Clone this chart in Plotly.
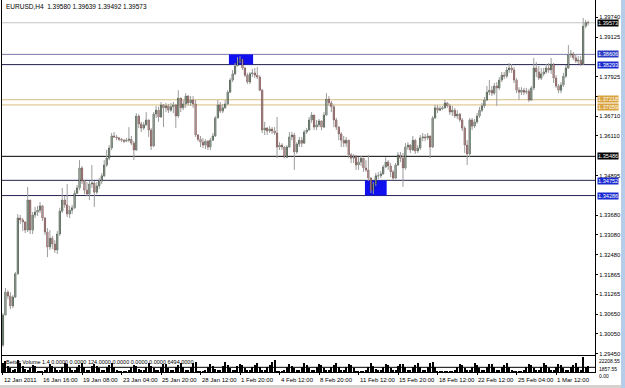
import plotly.graph_objects as go

# ---------------- data (EURUSD, H4) ----------------
first_open = 1.2971
close = [
1.3063, 1.3133, 1.3121, 1.3091, 1.3118, 1.3189, 1.3360, 1.3354, 1.3348, 1.3323,
1.3415, 1.3323, 1.3369, 1.3378, 1.3384, 1.3397, 1.3360, 1.3317, 1.3271, 1.3298,
1.3280, 1.3262, 1.3311, 1.3381, 1.3415, 1.3400, 1.3372, 1.3384, 1.3391, 1.3436,
1.3452, 1.3513, 1.3473, 1.3445, 1.3433, 1.3464, 1.3467, 1.3439, 1.3458, 1.3473,
1.3489, 1.3522, 1.3543, 1.3574, 1.3611, 1.3608, 1.3605, 1.3601, 1.3598, 1.3595,
1.3598, 1.3601, 1.3589, 1.3568, 1.3672, 1.3648, 1.3635, 1.3645, 1.3660, 1.3629,
1.3580, 1.3678, 1.3690, 1.3669, 1.3706, 1.3697, 1.3703, 1.3690, 1.3700, 1.3706,
1.3672, 1.3727, 1.3697, 1.3709, 1.3733, 1.3712, 1.3721, 1.3709, 1.3614, 1.3601,
1.3592, 1.3583, 1.3595, 1.3577, 1.3598, 1.3611, 1.3666, 1.3706, 1.3687, 1.3697,
1.3709, 1.3745, 1.3782, 1.3801, 1.3825, 1.3840, 1.3846, 1.3819, 1.3797, 1.3776,
1.3801, 1.3804, 1.3797, 1.3791, 1.3751, 1.3629, 1.3635, 1.3626, 1.3632, 1.3626,
1.3620, 1.3577, 1.3583, 1.3577, 1.3546, 1.3577, 1.3608, 1.3614, 1.3562, 1.3586,
1.3598, 1.3589, 1.3623, 1.3629, 1.3660, 1.3675, 1.3638, 1.3645, 1.3657, 1.3638,
1.3675, 1.3724, 1.3712, 1.3700, 1.3660, 1.3638, 1.3617, 1.3598, 1.3589, 1.3598,
1.3553, 1.3543, 1.3550, 1.3522, 1.3531, 1.3543, 1.3513, 1.3507, 1.3482, 1.3445,
1.3464, 1.3489, 1.3489, 1.3495, 1.3516, 1.3531, 1.3519, 1.3501, 1.3482, 1.3522,
1.3553, 1.3543, 1.3513, 1.3577, 1.3583, 1.3568, 1.3598, 1.3565, 1.3574, 1.3605,
1.3608, 1.3605, 1.3611, 1.3577, 1.3666, 1.3697, 1.3690, 1.3694, 1.3697, 1.3712,
1.3703, 1.3684, 1.3690, 1.3672, 1.3678, 1.3660, 1.3635, 1.3583, 1.3556, 1.3660,
1.3641, 1.3654, 1.3672, 1.3690, 1.3703, 1.3721, 1.3745, 1.3751, 1.3742, 1.3764,
1.3758, 1.3782, 1.3797, 1.3794, 1.3813, 1.3819, 1.3813, 1.3782, 1.3751, 1.3745,
1.3751, 1.3745, 1.3748, 1.3721, 1.3758, 1.3819, 1.3807, 1.3788, 1.3801, 1.3807,
1.3819, 1.3813, 1.3831, 1.3788, 1.3764, 1.3751, 1.3767, 1.3794, 1.3819, 1.3859,
1.3862, 1.3850, 1.3840, 1.3843, 1.3831, 1.3947, 1.3958, 1.39573]

high = [
1.3069, 1.3146, 1.3139, 1.3133, 1.3124, 1.3195, 1.3372, 1.3369, 1.3360, 1.3348,
1.3455, 1.3415, 1.3378, 1.3394, 1.3397, 1.3409, 1.3400, 1.3363, 1.3329, 1.3323,
1.3305, 1.3292, 1.3320, 1.3391, 1.3452, 1.3427, 1.3464, 1.3397, 1.3400, 1.3445,
1.3461, 1.3537, 1.3519, 1.3476, 1.3470, 1.3473, 1.3522, 1.3473, 1.3470, 1.3482,
1.3498, 1.3537, 1.3568, 1.3583, 1.3620, 1.3623, 1.3614, 1.3608, 1.3605, 1.3601,
1.3605, 1.3638, 1.3611, 1.3595, 1.3681, 1.3678, 1.3654, 1.3654, 1.3684, 1.3660,
1.3635, 1.3684, 1.3703, 1.3700, 1.3715, 1.3709, 1.3712, 1.3709, 1.3712, 1.3715,
1.3709, 1.3751, 1.3727, 1.3721, 1.3742, 1.3736, 1.3733, 1.3733, 1.3721, 1.3617,
1.3611, 1.3605, 1.3601, 1.3598, 1.3605, 1.3620, 1.3672, 1.3721, 1.3715, 1.3709,
1.3721, 1.3751, 1.3788, 1.3813, 1.3834, 1.3852, 1.3855, 1.3843, 1.3822, 1.3804,
1.3807, 1.3816, 1.3819, 1.3822, 1.3797, 1.3755, 1.3654, 1.3638, 1.3641, 1.3638,
1.3638, 1.3669, 1.3592, 1.3589, 1.3580, 1.3583, 1.3623, 1.3623, 1.3620, 1.3592,
1.3608, 1.3608, 1.3629, 1.3635, 1.3669, 1.3684, 1.3675, 1.3660, 1.3663, 1.3657,
1.3684, 1.3742, 1.3733, 1.3718, 1.3706, 1.3666, 1.3641, 1.3623, 1.3611, 1.3608,
1.3595, 1.3559, 1.3556, 1.3553, 1.3546, 1.3550, 1.3543, 1.3537, 1.3553, 1.3485,
1.3470, 1.3498, 1.3501, 1.3504, 1.3522, 1.3546, 1.3537, 1.3528, 1.3507, 1.3528,
1.3562, 1.3562, 1.3559, 1.3589, 1.3592, 1.3586, 1.3611, 1.3601, 1.3583, 1.3614,
1.3620, 1.3617, 1.3620, 1.3611, 1.3672, 1.3706, 1.3706, 1.3703, 1.3703, 1.3721,
1.3715, 1.3709, 1.3703, 1.3697, 1.3690, 1.3681, 1.3666, 1.3641, 1.3598, 1.3666,
1.3666, 1.3663, 1.3681, 1.3700, 1.3712, 1.3730, 1.3764, 1.3782, 1.3764, 1.3773,
1.3776, 1.3791, 1.3807, 1.3807, 1.3822, 1.3834, 1.3831, 1.3822, 1.3788, 1.3760,
1.3760, 1.3758, 1.3758, 1.3755, 1.3764, 1.3850, 1.3837, 1.3825, 1.3819, 1.3819,
1.3831, 1.3834, 1.3850, 1.3834, 1.3797, 1.3770, 1.3776, 1.3804, 1.3828, 1.3889,
1.3874, 1.3868, 1.3859, 1.3855, 1.3855, 1.3972, 1.3966, 1.39639]

low = [
1.2965, 1.3063, 1.3111, 1.3081, 1.3084, 1.3115, 1.3186, 1.3342, 1.3320, 1.3314,
1.3317, 1.3311, 1.3311, 1.3360, 1.3366, 1.3375, 1.3351, 1.3308, 1.3240, 1.3262,
1.3265, 1.3253, 1.3250, 1.3305, 1.3375, 1.3391, 1.3363, 1.3360, 1.3372, 1.3388,
1.3433, 1.3445, 1.3464, 1.3433, 1.3427, 1.3415, 1.3452, 1.3394, 1.3433, 1.3449,
1.3464, 1.3485, 1.3516, 1.3537, 1.3568, 1.3605, 1.3598, 1.3595, 1.3592, 1.3589,
1.3592, 1.3592, 1.3583, 1.3537, 1.3565, 1.3635, 1.3623, 1.3629, 1.3641, 1.3608,
1.3568, 1.3577, 1.3666, 1.3654, 1.3666, 1.3638, 1.3684, 1.3681, 1.3684, 1.3681,
1.3635, 1.3666, 1.3684, 1.3690, 1.3697, 1.3703, 1.3703, 1.3697, 1.3608, 1.3595,
1.3577, 1.3574, 1.3571, 1.3568, 1.3568, 1.3595, 1.3608, 1.3666, 1.3681, 1.3681,
1.3694, 1.3706, 1.3742, 1.3776, 1.3797, 1.3825, 1.3834, 1.3813, 1.3791, 1.3770,
1.3770, 1.3791, 1.3788, 1.3785, 1.3748, 1.3620, 1.3614, 1.3614, 1.3620, 1.3617,
1.3614, 1.3543, 1.3568, 1.3568, 1.3543, 1.3543, 1.3574, 1.3598, 1.3507, 1.3556,
1.3577, 1.3577, 1.3586, 1.3617, 1.3629, 1.3651, 1.3629, 1.3629, 1.3638, 1.3629,
1.3635, 1.3672, 1.3703, 1.3684, 1.3638, 1.3629, 1.3598, 1.3577, 1.3577, 1.3577,
1.3543, 1.3528, 1.3528, 1.3507, 1.3507, 1.3519, 1.3501, 1.3501, 1.3473, 1.3436,
1.3433, 1.3458, 1.3479, 1.3482, 1.3492, 1.3513, 1.3507, 1.3485, 1.3476, 1.3479,
1.3519, 1.3531, 1.3455, 1.3507, 1.3568, 1.3559, 1.3565, 1.3556, 1.3559, 1.3568,
1.3595, 1.3595, 1.3598, 1.3543, 1.3574, 1.3663, 1.3681, 1.3687, 1.3690, 1.3694,
1.3697, 1.3675, 1.3672, 1.3666, 1.3663, 1.3654, 1.3626, 1.3559, 1.3522, 1.3546,
1.3629, 1.3635, 1.3648, 1.3666, 1.3684, 1.3697, 1.3718, 1.3736, 1.3733, 1.3736,
1.3703, 1.3751, 1.3776, 1.3785, 1.3788, 1.3804, 1.3804, 1.3773, 1.3742, 1.3721,
1.3736, 1.3736, 1.3739, 1.3715, 1.3718, 1.3751, 1.3791, 1.3782, 1.3782, 1.3794,
1.3801, 1.3804, 1.3801, 1.3773, 1.3758, 1.3742, 1.3742, 1.3761, 1.3788, 1.3816,
1.3850, 1.3843, 1.3834, 1.3831, 1.3825, 1.3828, 1.3941, 1.39492]

volume = [
12000, 15000, 9000, 5000, 3000, 4000, 16000, 12000, 8000, 4000, 2500, 6000, 10000, 8000,
600, 300, 900,
2000, 6000, 11000, 9000, 5000, 2500, 2200, 7000, 12000, 10500, 6000, 3000,
1800, 6500, 10000, 13000, 7000, 2600, 2400, 8000, 11500, 9000, 5500, 3200,
2000, 7500, 9500, 12000, 6500, 1500,
300, 200, 250, 400,
2500, 7000, 10000, 8500, 4000, 2000, 2800, 6500, 12500, 9000, 5000, 2300,
2100, 7200, 10500, 11000, 6000, 2700, 2400, 6800, 9800, 13000, 7200, 3000,
1900, 7400, 12000, 14500,
500, 300, 700,
2600, 6800, 11000, 9000, 4800, 2200, 2500, 7800, 13500, 10000, 5200, 2600,
2000, 8200, 11800, 9600, 6200, 2400, 2700, 7000, 10400, 12800, 6600, 2900,
2100, 6600, 9400, 13800, 17000,
900, 400, 600,
2400, 7200, 10800, 8800, 5000, 2300, 2600, 6900, 12200, 9300, 5600, 2500,
2200, 7600, 11200, 10200, 6100, 2800, 2300, 7100, 9900, 12400, 6900, 3100,
2000, 7000, 11600, 9800, 5400,
600, 300, 200, 500,
2600, 7400, 12600, 9000, 4600, 2100, 2400, 6600, 11400, 9900, 5400, 2600,
2100, 7700, 10600, 10800, 6300, 2700, 2500, 6900, 10200, 12900, 7100, 3000,
2200, 7300, 11900, 13200, 6800,
900, 500, 400, 300, 350, 600, 800,
2300, 7000, 11000, 9400, 5200, 2400, 2500, 6700, 12800, 9700, 5300, 2600,
2200, 7500, 10900, 11300, 6400, 2800, 2400, 7200, 10100, 12700, 7000, 3100,
700, 300, 400, 600,
2100, 7300, 11700, 9500, 5600, 2300, 2600, 6800, 12300, 9200, 5100, 2500,
2300, 7400, 10700, 10400, 6000, 2600, 2500, 7100, 10100, 12600, 6700, 3000,
21500, 6400, 8200]
vol_max = 22208.55
vol_low_label = 1857.55
vol_avg = 6494.0

date_ticks = [0, 16, 32, 48, 64, 80, 96, 112, 128, 144, 160, 176, 192, 208, 224]
date_labels = ["12 Jan 2011", "16 Jan 16:00", "19 Jan 08:00", "23 Jan 04:00", "25 Jan 20:00",
               "28 Jan 12:00", "1 Feb 20:00", "4 Feb 12:00", "8 Feb 20:00", "11 Feb 12:00",
               "15 Feb 20:00", "18 Feb 12:00", "22 Feb 12:00", "25 Feb 04:00", "1 Mar 12:00"]

price_ticks = [1.39740, 1.39125, 1.37925, 1.37310, 1.36710, 1.36110, 1.34895,
               1.33680, 1.33080, 1.32480, 1.31865, 1.31265, 1.30650, 1.30050, 1.29450]
hidden_ticks = [1.37310]   # tick mark only; its label sits behind the orange level labels

# horizontal levels: (price, line colour, label background, label nudge in px)
levels = [
    (1.38606, "#7a7aa8", "#2b3bc4", 0),
    (1.38293, "#1e1e4a", "#1a2bd0", 0),
    (1.37218, "#d8bc80", "#d9a23c", 1),
    (1.37059, "#d8bc80", "#d9a23c", -2),
    (1.35486, "#000000", "#000000", 0),
    (1.34752, "#242450", "#1a2bd0", -1),
    (1.34286, "#242450", "#1a2bd0", 0),
]
bid_price = 1.39573
header = "EURUSD,H4  1.39580 1.39639 1.39492 1.39573"
vol_header = "Better Volume 1.4 0.0000 0.0000 124.0000 0.0000 0.0000 0.0000 6494.0000"

# zones: (first bar, last bar, lower price, upper price)
zones = [(91.5, 101.3, 1.38293, 1.38606), (146.6, 155.4, 1.34286, 1.34752)]

# ---------------- figure ----------------
W, H = 625, 388
ML, MR, MT, MB = 2, 30, 0, 16
PW, PH = W - ML - MR, H - MT - MB
px_per_bar = 2.469
x0 = -0.4
x1 = x0 + PW / px_per_bar
y_top, y_bot = 1.4027, 1.29407
main_bottom_px = 355
main_dom = [(PH - main_bottom_px) / PH, 1]
vol_dom = [0, 16 / PH]

n = len(close)
xs = list(range(n))
opens = [first_open] + close[:-1]

wx, wy = [], []
for i in xs:
    lo = min(low[i], opens[i], close[i])
    hi = max(high[i], opens[i], close[i])
    wx += [i, i, None]
    wy += [lo, hi, None]

fig = go.Figure()
fig.add_trace(go.Scatter(x=wx, y=wy, mode="lines", line=dict(color="#9c9c9c", width=1),
                         hoverinfo="skip", showlegend=False))
fig.add_trace(go.Candlestick(
    x=xs, open=opens, close=close,
    high=[max(o, c) for o, c in zip(opens, close)],
    low=[min(o, c) for o, c in zip(opens, close)],
    increasing=dict(fillcolor="#0f2f10", line=dict(color="#0f2f10", width=0.6)),
    decreasing=dict(fillcolor="#6e1d1d", line=dict(color="#6e1d1d", width=0.6)),
    whiskerwidth=0, showlegend=False, hoverinfo="skip"))

fig.add_trace(go.Bar(x=list(range(len(volume))), y=volume, xaxis="x2", yaxis="y2",
                     marker=dict(color="#000000", line=dict(width=0)), width=0.45,
                     showlegend=False, hoverinfo="skip"))

shapes = []
for p, lc, _, _ in levels:
    shapes.append(dict(type="line", xref="x domain", x0=0, x1=1, yref="y", y0=p, y1=p,
                       line=dict(color=lc, width=1), layer="below"))
shapes.append(dict(type="line", xref="x domain", x0=0, x1=1, yref="y", y0=bid_price, y1=bid_price,
                   line=dict(color="#c4c4c4", width=1), layer="below"))
for a, b, lo, hi in zones:
    shapes.append(dict(type="rect", xref="x", x0=a, x1=b, yref="y", y0=lo, y1=hi,
                       fillcolor="#1010ee", line=dict(width=0), layer="below"))
shapes.append(dict(type="line", xref="x2 domain", x0=0, x1=1, yref="y2", y0=vol_avg, y1=vol_avg,
                   line=dict(color="#000000", width=1)))
# window decorations
shapes.append(dict(type="rect", xref="paper", yref="paper", layer="below",
                   x0=(621 - ML) / PW, x1=(W - ML) / PW, y0=-MB / PH, y1=1,
                   fillcolor="#b5cde8", line=dict(width=0)))
shapes.append(dict(type="rect", xref="paper", yref="paper", layer="below",
                   x0=-ML / PW, x1=(621 - ML) / PW, y0=-MB / PH, y1=(PH - 385) / PH,
                   fillcolor="#d6d3ce", line=dict(width=0)))

font = "Liberation Sans, Arial, sans-serif"
ann = []
ann.append(dict(text=header, xref="paper", yref="paper", x=0, y=1, xanchor="left", yanchor="top",
                xshift=2, yshift=-1, showarrow=False, font=dict(family=font, size=6.5, color="#000")))
ann.append(dict(text=vol_header, xref="paper", yref="paper", x=0, y=vol_dom[1], xanchor="left",
                yanchor="top", xshift=2, yshift=-1, showarrow=False,
                font=dict(family=font, size=5.5, color="#000")))
for p, _, bg, nudge in levels:
    ann.append(dict(text=f"{p:.5f}", xref="paper", yref="y", x=1, y=p, xanchor="left", yanchor="middle",
                    xshift=2, yshift=nudge, showarrow=False, bgcolor=bg, borderpad=0,
                    font=dict(family=font, size=5.6, color="#ffffff")))
ann.append(dict(text=f"{bid_price:.5f}", xref="paper", yref="y", x=1, y=bid_price, xanchor="left",
                yanchor="middle", xshift=2, showarrow=False, bgcolor="#000000", borderpad=0,
                font=dict(family=font, size=5.6, color="#ffffff")))
for t, lab in zip(date_ticks, date_labels):
    ann.append(dict(text=lab, xref="x2", yref="paper", x=t, y=0, xanchor="left", yanchor="top",
                    xshift=-1, yshift=-3, showarrow=False, font=dict(family=font, size=6, color="#000")))
# volume-scale labels (pixel offsets relative to the pane)
for val, txt, ys in [(vol_max, f"{vol_max:.2f}", -5), (0, f"{vol_low_label:.2f}", 3), (0, "0.00", -4)]:
    ann.append(dict(text=txt, xref="paper", yref="y2", x=1, y=val, xanchor="left", yanchor="middle",
                    xshift=2, yshift=ys, showarrow=False,
                    font=dict(family=font, size=5, color="#000")))

fig.update_layout(
    width=W, height=H, autosize=False,
    margin=dict(l=ML, r=MR, t=MT, b=MB, pad=0),
    paper_bgcolor="#ffffff", plot_bgcolor="#ffffff",
    showlegend=False, hovermode=False, bargap=0,
    shapes=shapes, annotations=ann,
    xaxis=dict(domain=[0, 1], anchor="y", range=[x0, x1], showline=True, linecolor="#000",
               linewidth=1, showticklabels=False, ticks="", showgrid=False, zeroline=False,
               rangeslider=dict(visible=False), fixedrange=True),
    yaxis=dict(domain=main_dom, anchor="x", range=[y_bot, y_top], side="right", showline=True,
               mirror=True, linecolor="#000", linewidth=1, ticks="outside", ticklen=2,
               tickcolor="#000", tickvals=price_ticks,
               ticktext=["" if v in hidden_ticks else f"{v:.5f}" for v in price_ticks],
               tickfont=dict(family=font, size=5.8, color="#000"), showgrid=False, zeroline=False),
    xaxis2=dict(domain=[0, 1], anchor="y2", range=[x0, x1], showline=True, mirror=True,
                linecolor="#000", linewidth=1, ticks="outside", ticklen=2, tickcolor="#000",
                tickvals=date_ticks, showticklabels=False, showgrid=False, zeroline=False),
    yaxis2=dict(domain=vol_dom, anchor="x2", range=[0, vol_max], side="right", showline=True,
                mirror=True, linecolor="#000", linewidth=1, showticklabels=False, ticks="",
                showgrid=False, zeroline=False),
)

fig.write_html("out.html")
